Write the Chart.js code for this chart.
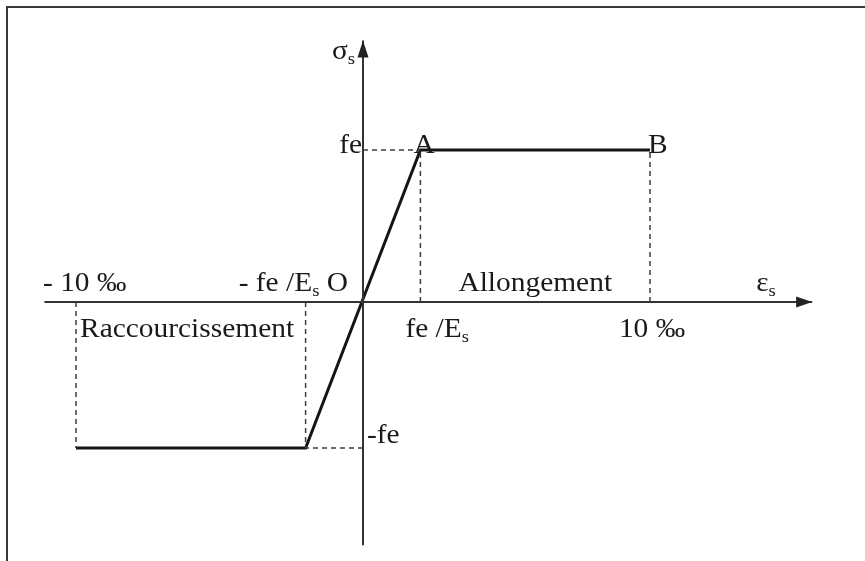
<!DOCTYPE html>
<html><head><meta charset="utf-8">
<script src="https://cdn.jsdelivr.net/npm/chart.js@4"></script>
<style>
html,body{margin:0;padding:0;background:#fff;}
#wrap{position:relative;width:865px;height:561px;overflow:hidden;background:#fff;}
#frame{position:absolute;left:6px;top:6px;width:900px;height:600px;border-top:2px solid #3a3a3a;border-left:2px solid #3a3a3a;}
canvas{position:absolute;left:0;top:0;}
</style></head><body>
<div id="wrap"><div id="frame"></div><canvas id="c" width="865" height="561"></canvas></div>
<script>
// ---- data (strain in ‰, stress in units of fe) ----
const strain = [-10, -2, 2, 10];
const stress = [-0.96, -0.96, 1, 1];
const pointNames = ['', '', 'A', 'B'];
const xAxisEnds = [-11.1, 15.65];
const yAxisEnds = [-1.6, 1.72];
const xLabelsAbove = ['- 10 ‰', '- fe /E_s O'];
const xLabelsBelow = ['fe /E_s', '10 ‰'];
const yLabels = ['fe', '-fe'];
const regionLabels = ['Raccourcissement', 'Allongement'];
const axisTitles = ['σ_s', 'ε_s'];

const curve = strain.map((x, i) => ({x, y: stress[i]}));
const guides = [];
strain.forEach((x, i) => {
  guides.push([{x, y: 0}, {x, y: stress[i]}]);
  if (Math.abs(x) < 5) guides.push([{x: 0, y: stress[i]}, {x, y: stress[i]}]);
});

const datasets = [
  ...guides.map(g => ({data: g, borderColor: '#3c3c3c', borderWidth: 1.5, borderDash: [5, 4], pointRadius: 0, showLine: true})),
  {data: [{x: xAxisEnds[0], y: 0}, {x: xAxisEnds[1], y: 0}], borderColor: '#333', borderWidth: 2, pointRadius: 0, showLine: true},
  {data: [{x: 0, y: yAxisEnds[0]}, {x: 0, y: yAxisEnds[1]}], borderColor: '#333', borderWidth: 2, pointRadius: 0, showLine: true},
  {data: curve, borderColor: '#151515', borderWidth: 3, pointRadius: 0, showLine: true, borderJoinStyle: 'miter'}
];

function drawRich(ctx, str, x, y, align, size) {
  const parts = str.split('_');
  const segs = [{t: parts[0], sub: false}];
  for (let i = 1; i < parts.length; i++) {
    segs.push({t: parts[i][0], sub: true});
    if (parts[i].length > 1) segs.push({t: parts[i].slice(1), sub: false});
  }
  const sx = 1.09;
  const fMain = size + 'px "Liberation Serif", "Times New Roman", serif';
  const fSub = Math.round(size * 0.62) + 'px "Liberation Serif", "Times New Roman", serif';
  let w = 0;
  segs.forEach(s => { ctx.font = s.sub ? fSub : fMain; s.w = ctx.measureText(s.t).width * sx; w += s.w; });
  let cx = align === 'right' ? x - w : align === 'center' ? x - w / 2 : x;
  segs.forEach(s => {
    ctx.save();
    ctx.font = s.sub ? fSub : fMain;
    ctx.translate(cx, y + (s.sub ? size * 0.2 : 0));
    ctx.scale(sx, 1);
    ctx.fillText(s.t, 0, 0);
    ctx.restore();
    cx += s.w;
  });
}

const annot = {
  id: 'annot',
  afterDatasetsDraw(chart) {
    const ctx = chart.ctx, X = chart.scales.x, Y = chart.scales.y;
    const px = v => X.getPixelForValue(v), py = v => Y.getPixelForValue(v);
    const ox = px(0), oy = py(0);
    ctx.save();
    ctx.fillStyle = '#222';
    // arrow heads
    const ty = py(yAxisEnds[1]);
    ctx.beginPath(); ctx.moveTo(ox, ty); ctx.lineTo(ox - 5.5, ty + 17); ctx.lineTo(ox + 5.5, ty + 17); ctx.closePath(); ctx.fill();
    const tx = px(xAxisEnds[1]);
    ctx.beginPath(); ctx.moveTo(tx, oy); ctx.lineTo(tx - 16, oy - 5.5); ctx.lineTo(tx - 16, oy + 5.5); ctx.closePath(); ctx.fill();
    // text
    ctx.fillStyle = '#1a1a1a';
    ctx.textBaseline = 'alphabetic';
    const S = 27;
    drawRich(ctx, axisTitles[0], ox - 31, py(1.6), 'left', S);
    drawRich(ctx, axisTitles[1], px(13.7), oy - 11, 'left', S);
    drawRich(ctx, yLabels[0], ox - 1, py(stress[3]) + 3, 'right', S);
    drawRich(ctx, yLabels[1], ox + 4, py(stress[0]) - 5, 'left', S);
    drawRich(ctx, pointNames[2], px(strain[2]) - 7, py(stress[2]) + 3, 'left', S);
    drawRich(ctx, pointNames[3], px(strain[3]) - 2, py(stress[3]) + 3, 'left', S);
    drawRich(ctx, xLabelsAbove[0], px(strain[0]) - 33, oy - 11, 'left', S);
    drawRich(ctx, xLabelsAbove[1], ox - 15, oy - 11, 'right', S);
    drawRich(ctx, xLabelsBelow[0], px(strain[2]) - 15, oy + 35, 'left', S);
    drawRich(ctx, xLabelsBelow[1], px(strain[3]) + 2, oy + 35, 'center', S);
    drawRich(ctx, regionLabels[0], px(strain[0]) + 4, oy + 35, 'left', S);
    drawRich(ctx, regionLabels[1], px(strain[2]) + 38, oy - 11, 'left', S);
    ctx.restore();
  }
};

new Chart(document.getElementById('c'), {
  type: 'scatter',
  data: {datasets},
  options: {
    responsive: false, animation: false, devicePixelRatio: 1,
    layout: {padding: 0},
    plugins: {legend: {display: false}, tooltip: {enabled: false}},
    scales: {
      x: {type: 'linear', display: false, min: -363 / 28.7, max: 502 / 28.7},
      y: {type: 'linear', display: false, min: -259 / 152, max: 302 / 152}
    }
  },
  plugins: [annot]
});
</script>
</body></html>
